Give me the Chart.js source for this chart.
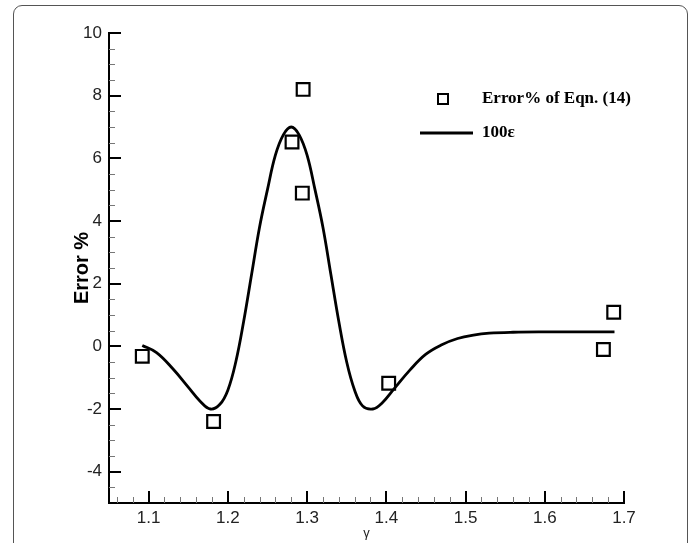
<!DOCTYPE html>
<html>
<head>
<meta charset="utf-8">
<script src="https://cdn.jsdelivr.net/npm/chart.js@4.4.1/dist/chart.umd.min.js"></script>
<style>
  html, body { margin: 0; padding: 0; background: #fff; }
  #wrap { position: relative; width: 696px; height: 543px; overflow: hidden; }
  #frame {
    position: absolute; left: 13px; top: 5px; width: 675px; height: 580px;
    border: 1px solid #555; border-radius: 9px; box-sizing: border-box;
  }
  #chart { position: absolute; left: 0; top: 0; }
</style>
</head>
<body>
<div id="wrap">
  <div id="frame"></div>
  <canvas id="chart" width="696" height="543"></canvas>
</div>
<script>
// Error% of Eqn. (14) vs gamma
var ERR_X = [1.092, 1.182, 1.281, 1.294, 1.295, 1.403, 1.674, 1.687];
var ERR_Y = [-0.32, -2.4, 6.52, 4.89, 8.2, -1.18, -0.1, 1.09];

// 100 epsilon curve
var EPS_X = [1.092, 1.11, 1.13, 1.15, 1.165, 1.178, 1.19, 1.20, 1.21, 1.22, 1.23, 1.24, 1.25,
  1.26, 1.27, 1.28, 1.29, 1.30, 1.31, 1.32, 1.33, 1.34, 1.35, 1.36, 1.37, 1.383, 1.395,
  1.41, 1.43, 1.45, 1.47, 1.49, 1.51, 1.53, 1.56, 1.60, 1.65, 1.688];
var EPS_Y = [0.03, -0.2, -0.7, -1.3, -1.75, -2.0, -1.85, -1.4, -0.5, 0.8, 2.3, 3.8, 5.0,
  6.1, 6.75, 7.0, 6.75, 6.1, 5.0, 3.8, 2.3, 0.8, -0.5, -1.4, -1.9, -2.0, -1.8,
  -1.35, -0.75, -0.25, 0.05, 0.25, 0.36, 0.42, 0.45, 0.46, 0.46, 0.46];

var X_TICKS = [1.1, 1.2, 1.3, 1.4, 1.5, 1.6, 1.7];
var Y_TICKS = [-4, -2, 0, 2, 4, 6, 8, 10];

function pts(xs, ys) {
  return xs.map(function (x, i) { return { x: x, y: ys[i] }; });
}

// inward ticks, Tecplot style, with minor ticks
var tickPlugin = {
  id: 'inwardTicks',
  afterDatasetsDraw: function (chart) {
    var ctx = chart.ctx;
    var xs = chart.scales.x, ys = chart.scales.y;
    var left = chart.chartArea.left, bottom = chart.chartArea.bottom;
    ctx.save();
    ctx.lineCap = 'butt';
    // minor
    ctx.strokeStyle = '#777';
    ctx.lineWidth = 1;
    ctx.beginPath();
    var v, p;
    for (v = 1.06; v < 1.7001; v += 0.02) {
      if (Math.abs(v * 10 - Math.round(v * 10)) < 1e-6) continue;
      p = Math.round(xs.getPixelForValue(v)) + 0.5;
      ctx.moveTo(p, bottom); ctx.lineTo(p, bottom - 6);
    }
    for (v = -4.5; v < 10; v += 0.5) {
      if (Math.abs(v / 2 - Math.round(v / 2)) < 1e-6) continue;
      p = Math.round(ys.getPixelForValue(v)) + 0.5;
      ctx.moveTo(left, p); ctx.lineTo(left + 6, p);
    }
    ctx.stroke();
    // major
    ctx.strokeStyle = '#000';
    ctx.lineWidth = 2;
    ctx.beginPath();
    X_TICKS.forEach(function (t) {
      var q = Math.round(xs.getPixelForValue(t));
      ctx.moveTo(q, bottom); ctx.lineTo(q, bottom - 12);
    });
    Y_TICKS.forEach(function (t) {
      var q = Math.round(ys.getPixelForValue(t));
      ctx.moveTo(left, q); ctx.lineTo(left + 12, q);
    });
    ctx.stroke();
    ctx.restore();
  }
};

var legendPlugin = {
  id: 'innerLegend',
  afterDraw: function (chart) {
    var ctx = chart.ctx;
    var ds = chart.data.datasets;
    ctx.save();
    ctx.strokeStyle = '#000';
    ctx.fillStyle = '#000';
    ctx.font = 'bold 17px "Liberation Serif", "Times New Roman", serif';
    ctx.textBaseline = 'middle';
    ctx.textAlign = 'left';
    // square marker
    ctx.lineWidth = 2;
    ctx.strokeRect(438, 94, 10, 10);
    ctx.fillText(ds[0].label, 482, 99);
    // line
    ctx.lineWidth = 2.8;
    ctx.beginPath();
    ctx.moveTo(420, 133); ctx.lineTo(473, 133);
    ctx.stroke();
    ctx.fillText(ds[1].label, 482, 133);
    ctx.restore();
  }
};

new Chart(document.getElementById('chart').getContext('2d'), {
  type: 'scatter',
  data: {
    datasets: [{
      label: 'Error% of Eqn. (14)',
      data: pts(ERR_X, ERR_Y),
      pointStyle: 'rect',
      pointRadius: 9,
      pointBorderWidth: 2.2,
      pointBorderColor: '#000',
      pointBackgroundColor: 'rgba(0,0,0,0)',
      showLine: false,
      clip: false,
      order: 0
    }, {
      label: '100\u03B5',
      data: pts(EPS_X, EPS_Y),
      showLine: true,
      borderColor: '#000',
      borderWidth: 2.8,
      pointRadius: 0,
      tension: 0.4,
      fill: false,
      order: 1
    }]
  },
  options: {
    responsive: false,
    animation: false,
    layout: { padding: { top: 33, right: 72, left: 0, bottom: 0 } },
    plugins: {
      legend: { display: false },
      tooltip: { enabled: false }
    },
    scales: {
      x: {
        type: 'linear',
        min: 1.05,
        max: 1.7,
        afterBuildTicks: function (s) {
          s.ticks = X_TICKS.map(function (t) { return { value: t }; });
        },
        afterFit: function (s) { s.height = 40; },
        grid: { display: false, drawTicks: false },
        border: { display: true, color: '#000', width: 2 },
        ticks: {
          padding: 5,
          color: '#222',
          font: { family: '"Liberation Sans", Arial, sans-serif', size: 17 },
          maxRotation: 0,
          callback: function (v) { return v.toFixed(1); }
        },
        title: {
          display: true,
          text: '\u03B3',
          color: '#222',
          font: { family: '"Liberation Sans", Arial, sans-serif', size: 13 },
          padding: { top: 0, bottom: 2 }
        }
      },
      y: {
        type: 'linear',
        min: -5,
        max: 10,
        afterBuildTicks: function (s) {
          s.ticks = Y_TICKS.map(function (t) { return { value: t }; });
        },
        afterFit: function (s) { s.width = 109; },
        grid: { display: false, drawTicks: false },
        border: { display: true, color: '#000', width: 2 },
        ticks: {
          padding: 7,
          color: '#222',
          font: { family: '"Liberation Sans", Arial, sans-serif', size: 17 },
          callback: function (v) { return String(v); }
        },
        title: {
          display: true,
          text: 'Error %',
          color: '#000',
          font: { family: '"Liberation Sans", Arial, sans-serif', size: 20, weight: 'bold' },
          padding: { top: 70, bottom: 0 }
        }
      }
    }
  },
  plugins: [tickPlugin, legendPlugin]
});
</script>
</body>
</html>
